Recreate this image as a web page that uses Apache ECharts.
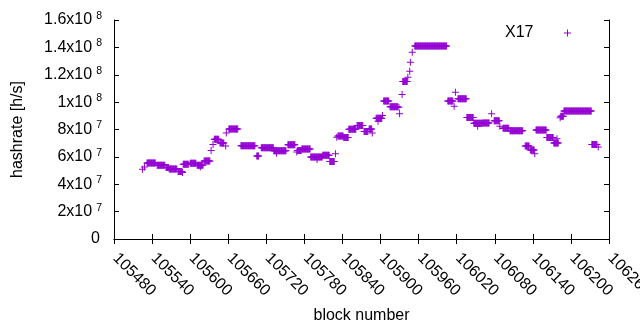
<!DOCTYPE html>
<html>
<head>
<meta charset="utf-8">
<script src="https://cdn.jsdelivr.net/npm/echarts@6/dist/echarts.min.js"></script>
<style>html,body{margin:0;padding:0;background:#fff}#c{width:640px;height:330px}</style>
</head>
<body>
<div id="c"></div>
<script>
// X-axis ticks (block number) and Y-axis ticks (hashrate)
const xTicks = [105480,105540,105600,105660,105720,105780,105840,105900,105960,106020,106080,106140,106200,106260];
const yTicks = [0,2e7,4e7,6e7,8e7,1e8,1.2e8,1.4e8,1.6e8];
const seriesName = 'X17';
// Runs of blocks with an (estimated) constant hashrate: first block, last block, hashrate [h/s]
const runStart = [105525,105528,105532,105548,105562,105567,105581,105588,105589,105600,105611,105616,105622,105633,105636,105638,105647,105656,105657,105661,105680,105705,105712,105732,105736,105754,105768,105769,105776,105790,105800,105809,105820,105829,105831,105833,105842,105850,105863,105874,105882,105887,105893,105896,105903,105905,105915,105929,105930,105934,105935,105943,105946,105947,105950,105954,106006,106016,106018,106022,106036,106047,106053,106061,106075,106079,106088,106093,106104,106128,106136,106143,106145,106162,106173,106178,106183,106184,106189,106233,106243];
const runEnd   = [105525,105528,105545,105560,105566,105579,105587,105588,105597,105609,105620,105616,105631,105633,105636,105645,105653,105656,105657,105675,105702,105708,105731,105751,105736,105765,105768,105775,105789,105808,105800,105819,105827,105829,105831,105841,105849,105861,105872,105880,105886,105887,105902,105896,105903,105913,105927,105929,105930,105934,105942,105943,105946,105947,105950,106004,106014,106016,106018,106035,106046,106060,106053,106071,106075,106087,106088,106102,106124,106134,106142,106143,106161,106172,106180,106178,106183,106188,106232,106241,106243];
const runValue = [50.9e6,52.6e6,55.6e6,53.8e6,52.3e6,51.1e6,49.4e6,48.5e6,54.7e6,55.3e6,53.8e6,52.6e6,56.9e6,64.7e6,69.1e6,72.8e6,70.2e6,67.9e6,77.4e6,80.3e6,68.2e6,60.7e6,66.6e6,64.5e6,62.6e6,68.8e6,63.5e6,64.7e6,65.7e6,60.0e6,58.0e6,61.1e6,56.7e6,62.3e6,74.4e6,75.3e6,74.2e6,80.1e6,83.0e6,78.6e6,80.3e6,77.4e6,88.2e6,86.1e6,90.3e6,100.9e6,96.6e6,96.3e6,91.5e6,105.6e6,115.0e6,118.2e6,122.6e6,129.2e6,136.5e6,141.0e6,100.9e6,96.9e6,107.3e6,102.5e6,88.7e6,84.5e6,82.3e6,84.8e6,91.5e6,86.4e6,82.3e6,80.9e6,79.1e6,68.0e6,65.1e6,62.3e6,79.7e6,74.2e6,70.2e6,73.3e6,88.6e6,89.6e6,93.6e6,69.0e6,67.2e6];

const points = [];
for (let i = 0; i < runStart.length; i++) {
  for (let b = runStart[i]; b <= runEnd[i]; b++) points.push([b, runValue[i]]);
}

const PLUS = 'path://M3,0h1v3h3v1h-3v3h-1v-3h-3v-1h3z';
const FONT = 'Liberation Sans';
const COLOR = '#9400d3';

function yFmt(v) {
  if (v === 0) return '{z|0}';
  const e = Math.floor(Math.log10(v) + 1e-9);
  const m = Number((v / Math.pow(10, e)).toFixed(1));
  return '{a|' + m + 'x10}{s|' + e + '}';
}

const chart = echarts.init(document.getElementById('c'), null, {renderer: 'canvas'});
const axisCommon = {
  axisLine: {show: true, lineStyle: {color: '#000', width: 1}},
  axisTick: {show: true, inside: true, length: 5, lineStyle: {color: '#000', width: 1}},
  splitLine: {show: false}
};
chart.setOption({
  animation: false,
  backgroundColor: '#fff',
  textStyle: {fontFamily: FONT},
  grid: {left: 114, right: 31, top: 20, bottom: 91, containLabel: false, outerBoundsMode: 'none'},
  legend: {
    data: [{name: seriesName, icon: PLUS}],
    left: 505, top: 25, padding: 0,
    align: 'right', itemWidth: 58, itemHeight: 7, symbolKeepAspect: true,
    textStyle: {fontFamily: FONT, fontSize: 16, color: '#000'},
    selectedMode: false
  },
  xAxis: [
    Object.assign({
      type: 'value', position: 'bottom',
      min: xTicks[0], max: xTicks[xTicks.length - 1], interval: xTicks[1] - xTicks[0],
      name: 'block number', nameLocation: 'middle', nameGap: 69,
      nameTextStyle: {fontFamily: FONT, fontSize: 16, color: '#000'},
      axisLabel: {rotate: -45, margin: 4, padding: [0, 0, 0, 10], verticalAlign: 'top', fontFamily: FONT, fontSize: 16, color: '#000',
        formatter: v => String(v), showMaxLabel: true, showMinLabel: true, hideOverlap: false}
    }, axisCommon),
    Object.assign({
      type: 'value', position: 'top',
      min: xTicks[0], max: xTicks[xTicks.length - 1], interval: xTicks[1] - xTicks[0],
      axisLabel: {show: false}
    }, axisCommon)
  ],
  yAxis: [
    Object.assign({
      type: 'value', position: 'left',
      min: yTicks[0], max: yTicks[yTicks.length - 1], interval: yTicks[1] - yTicks[0],
      name: 'hashrate [h/s]', nameLocation: 'middle', nameGap: 88, nameRotate: 90,
      nameTextStyle: {fontFamily: FONT, fontSize: 16, color: '#000'},
      axisLabel: {margin: 12, formatter: yFmt, color: '#000',
        rich: {
          a: {fontFamily: FONT, fontSize: 16, lineHeight: 16, verticalAlign: 'bottom', color: '#000'},
          s: {fontFamily: FONT, fontSize: 10.5, lineHeight: 10.5, verticalAlign: 'bottom', padding: [0, 0, 6.5, 4], color: '#000'},
          z: {fontFamily: FONT, fontSize: 16, lineHeight: 16, padding: [0, 2, 0, 0], color: '#000'}
        }}
    }, axisCommon),
    Object.assign({
      type: 'value', position: 'right',
      min: yTicks[0], max: yTicks[yTicks.length - 1], interval: yTicks[1] - yTicks[0],
      axisLabel: {show: false}
    }, axisCommon)
  ],
  series: [{
    name: seriesName,
    type: 'scatter',
    data: points,
    symbol: PLUS,
    symbolSize: 7,
    symbolKeepAspect: true,
    itemStyle: {color: COLOR, opacity: 1},
    emphasis: {disabled: true},
    large: false
  }]
});
</script>
</body>
</html>
